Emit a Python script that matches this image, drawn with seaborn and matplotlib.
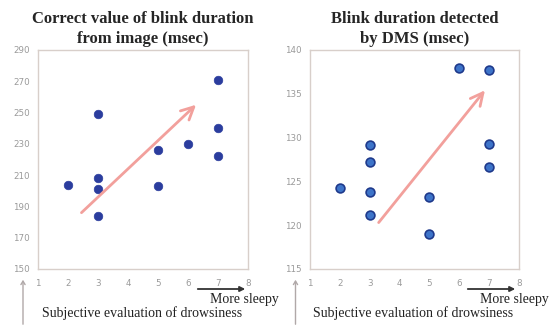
import matplotlib
matplotlib.use("Agg")
import matplotlib.pyplot as plt
import matplotlib.patches as mpatches
import seaborn as sns
import pandas as pd

# subjective drowsiness score vs blink duration
img_x = [2, 3, 3, 3, 3, 5, 5, 6, 7, 7, 7]
img_y = [204, 249, 208, 201, 184, 226, 203, 230, 271, 240, 222]

dms_x = [2, 3, 3, 3, 3, 5, 5, 6, 7, 7, 7]
dms_y = [124.3, 129.1, 127.2, 123.8, 121.2, 123.2, 119.0, 137.9, 137.7, 129.3, 126.7]

# trend arrows (start, end) in data units
img_arrow = [(2.45, 186), (6.27, 255)]
dms_arrow = [(3.3, 120.3), (6.86, 135.4)]

titles = ["Correct value of blink duration\nfrom image (msec)",
          "Blink duration detected\nby DMS (msec)"]
img_yticks = [150, 170, 190, 210, 230, 250, 270, 290]
dms_yticks = [115, 120, 125, 130, 135, 140]
xticks = [1, 2, 3, 4, 5, 6, 7, 8]

sns.set_style("white")
serif = ["Liberation Serif", "DejaVu Serif"]

W, H = 552, 327
fig = plt.figure(figsize=(5.52, 3.27), dpi=100)
ax1 = fig.add_axes([0.0688, 0.1774, 0.3804, 0.6697])
ax2 = fig.add_axes([0.5616, 0.1774, 0.3786, 0.6697])

df1 = pd.DataFrame({"x": img_x, "y": img_y})
df2 = pd.DataFrame({"x": dms_x, "y": dms_y})

sns.scatterplot(data=df1, x="x", y="y", ax=ax1, s=38, color="#2b3d9e",
                edgecolor="#2b3d9e", linewidth=0.5, zorder=3)
sns.scatterplot(data=df2, x="x", y="y", ax=ax2, s=40, color="#3d74c9",
                edgecolor="#1f3a8c", linewidth=1.2, zorder=3)

for ax, arr, yt, title in [(ax1, img_arrow, img_yticks, titles[0]),
                           (ax2, dms_arrow, dms_yticks, titles[1])]:
    ax.annotate("", xy=arr[1], xytext=arr[0],
                arrowprops=dict(arrowstyle="->,head_length=0.9,head_width=0.45",
                                color="#f2a09c", lw=2.0, shrinkA=0, shrinkB=0))
    ax.set_xlim(1, 8)
    ax.set_ylim(yt[0], yt[-1])
    ax.set_xticks(xticks)
    ax.set_yticks(yt)
    ax.set_xlabel("")
    ax.set_ylabel("")
    ax.tick_params(length=0, labelsize=6.3, labelcolor="#9a9a9a", pad=7)
    ax.tick_params(axis="y", pad=6)
    for sp in ax.spines.values():
        sp.set_color("#d8cfca")
        sp.set_linewidth(1.0)
    ax.set_title(title, fontfamily=serif, fontweight="bold", fontsize=12,
                 linespacing=1.3, pad=5)

# bottom annotations (pixel positions converted to figure fractions)
for x0, x1, tx, vx in [(195, 248, 42, 23), (465, 518, 313, 295.5)]:
    fig.add_artist(mpatches.FancyArrowPatch(
        (x0 / W, 1 - 289 / H), (x1 / W, 1 - 289 / H),
        transform=fig.transFigure, arrowstyle="-|>,head_length=3,head_width=1.5",
        color="#333333", lw=1.3))
    fig.text((x1 + 31) / W, 1 - 300 / H, "More sleepy",
             ha="right", va="center", fontfamily=serif, fontsize=10, color="#222222")
    fig.text(tx / W, 1 - 313 / H, "Subjective evaluation of drowsiness",
             ha="left", va="center", fontfamily=serif, fontsize=10, color="#222222")
    fig.add_artist(mpatches.FancyArrowPatch(
        (vx / W, 0.0), (vx / W, 1 - 277 / H),
        transform=fig.transFigure, arrowstyle="->,head_length=2.5,head_width=1.5",
        color="#b0a8a8", lw=1.0))

plt.savefig("out.png", dpi=100)
